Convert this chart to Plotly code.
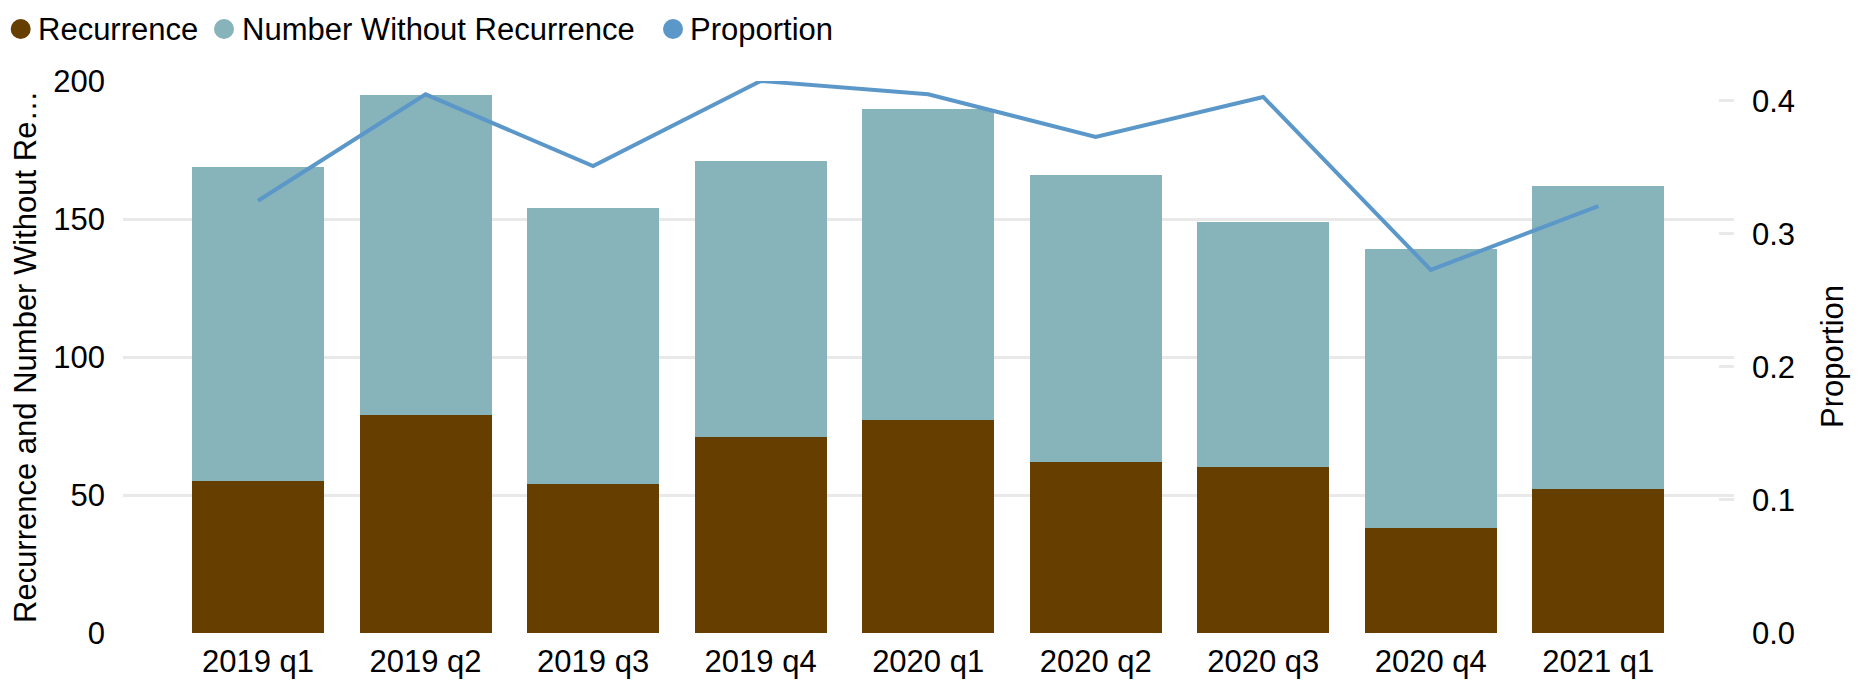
import plotly.graph_objects as go

quarters = ["2019 q1", "2019 q2", "2019 q3", "2019 q4", "2020 q1",
            "2020 q2", "2020 q3", "2020 q4", "2021 q1"]
recurrence = [55, 79, 54, 71, 77, 62, 60, 38, 52]
without_recurrence = [114, 116, 100, 100, 113, 104, 89, 101, 110]
proportion = [0.325, 0.405, 0.351, 0.415, 0.405, 0.373, 0.403, 0.273, 0.321]

left_ticks = [0, 50, 100, 150, 200]
right_ticks = [0.0, 0.1, 0.2, 0.3, 0.4]

series_names = ["Recurrence", "Number Without Recurrence", "Proportion"]

BROWN = "#663E00"
TEAL = "#87B3BB"
BLUE = "#5B98C9"
GRID = "#E9E9E9"
FONT = "Liberation Sans, Arial, sans-serif"
FS = 31

OFF = 8  # default page body margin
W, H = 1860 - OFF, 680 - OFF
ML, MR, MT, MB = 123 - OFF, 126, 81 - OFF, 47
PW = W - ML - MR
PH = H - MT - MB


def px_x(px):
    # screen pixel -> paper fraction
    return (px - OFF - ML) / PW


def px_y(py):
    return (H - MB - (py - OFF)) / PH


fig = go.Figure()
fig.add_trace(go.Bar(x=quarters, y=recurrence, name=series_names[0],
                     marker=dict(color=BROWN, line=dict(width=0)),
                     showlegend=False))
fig.add_trace(go.Bar(x=quarters, y=without_recurrence, name=series_names[1],
                     marker=dict(color=TEAL, line=dict(width=0)),
                     showlegend=False))
fig.add_trace(go.Scatter(x=quarters, y=proportion, name=series_names[2], yaxis="y2",
                         mode="lines", line=dict(color=BLUE, width=4),
                         showlegend=False))

# manual legend (circle + label)
legend_items = [(series_names[0], BROWN, 20.7, 36.5),
                (series_names[1], TEAL, 224.0, 240.5),
                (series_names[2], BLUE, 673.0, 689.0)]
shapes = []
annotations = []
R = 10
LY = 29
for nm, col, cx, tx in legend_items:
    shapes.append(dict(type="circle", xref="paper", yref="paper",
                       x0=px_x(cx - R), x1=px_x(cx + R),
                       y0=px_y(LY + R), y1=px_y(LY - R),
                       fillcolor=col, line=dict(width=0)))
    annotations.append(dict(text=nm, xref="paper", yref="paper",
                            x=px_x(tx), y=px_y(LY), xanchor="left", yanchor="middle",
                            showarrow=False, font=dict(size=FS, color="#000000"),
                            borderpad=0))

# axis titles
annotations.append(dict(text="Recurrence and Number Without Re…", xref="paper", yref="paper",
                        x=px_x(25), y=0.5, xanchor="center", yanchor="middle",
                        textangle=-90, showarrow=False, font=dict(size=FS), borderpad=0))
annotations.append(dict(text="Proportion", xref="paper", yref="paper",
                        x=px_x(1832), y=0.5, xanchor="center", yanchor="middle",
                        textangle=-90, showarrow=False, font=dict(size=FS), borderpad=0))

fig.update_layout(
    width=W, height=H,
    margin=dict(l=ML, r=MR, t=MT, b=MB, pad=0, autoexpand=False),
    paper_bgcolor="white", plot_bgcolor="white",
    font=dict(family=FONT, size=FS, color="#000000"),
    barmode="stack", bargap=0.212,
    showlegend=False,
    shapes=shapes, annotations=annotations,
    xaxis=dict(type="category", range=[-0.806, 8.81], showgrid=False,
               showline=False, zeroline=False, ticks="", automargin=False,
               tickfont=dict(size=FS), ticklabelstandoff=7),
    yaxis=dict(range=[0, 200], tickvals=left_ticks, showgrid=True,
               gridcolor=GRID, gridwidth=3, zeroline=False, showline=False,
               ticks="", tickfont=dict(size=FS), ticklabelstandoff=17,
               automargin=False),
    yaxis2=dict(range=[0, 0.415], overlaying="y", side="right",
                tickvals=right_ticks, tickformat=".1f", showgrid=False,
                zeroline=False, showline=False, ticks="inside", ticklen=15,
                tickwidth=3, tickcolor=GRID, tickfont=dict(size=FS),
                ticklabelstandoff=17, automargin=False),
)

fig.write_html("out.html")
